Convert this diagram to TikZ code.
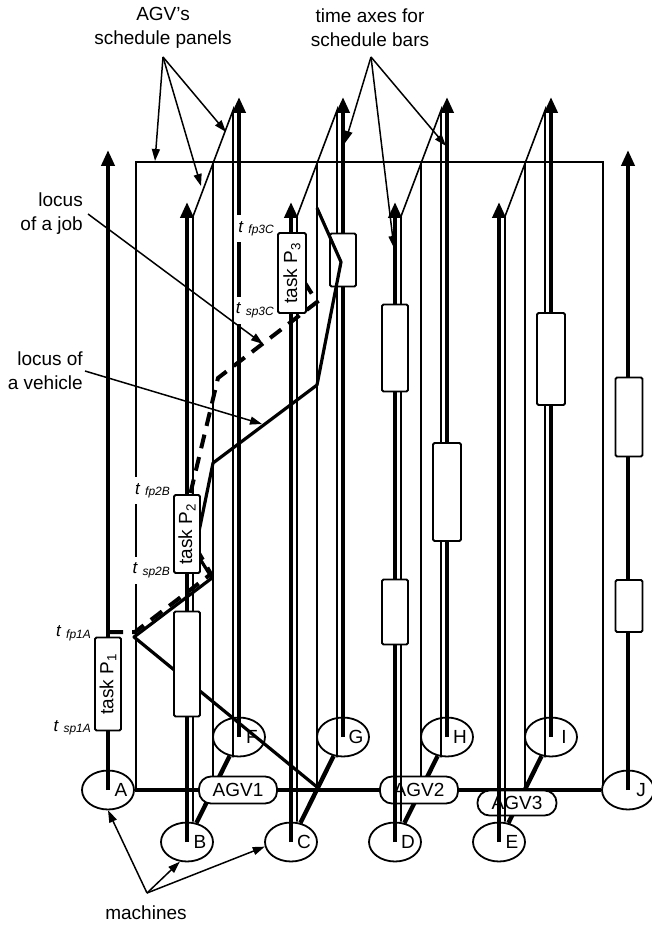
\documentclass[tikz,border=0pt]{standalone}
\usepackage{fontspec}
\setmainfont{Liberation Sans}
\usetikzlibrary{arrows.meta,backgrounds,shapes.geometric}

\newcommand{\timelabel}[1]{\textit{t}\ \raisebox{-1.5pt}{\fontsize{12}{12}\selectfont\textit{#1}}}

\tikzset{
    sched diagram/.style = {x=1pt, y=-1pt},
    machine/.style   = {draw, ellipse, line width=1.8pt, fill=white,
                        minimum width=52pt, minimum height=39pt, inner sep=0pt},
    mname/.style     = {font=\fontsize{19}{19}\selectfont, xshift=13pt},
    agv/.style       = {draw, line width=1.8pt, rounded corners=12pt, fill=white,
                        minimum width=78pt, minimum height=27pt, inner sep=0pt,
                        font=\fontsize{19}{19}\selectfont},
    timeaxis/.style  = {line width=4pt, -{Triangle[width=13pt,length=16pt]}},
    panel/.style     = {line width=1.6pt},
    link/.style      = {line width=4.4pt},
    schedbar/.style  = {draw, line width=1.8pt, rounded corners=1.5pt, fill=white,
                        minimum width=26pt, inner sep=0pt},
    task/.style      = {schedbar, rotate=90, minimum height=26pt,
                        font=\fontsize{19}{19}\selectfont},
    tlabel/.style    = {fill=white, inner xsep=2pt, inner ysep=6pt,
                        font=\fontsize{17}{17}\selectfont},
    vehicle/.style   = {line width=3.2pt, line join=round},
    job/.style       = {line width=4pt, dash pattern=on 14pt off 9pt},
    note/.style      = {font=\fontsize{19}{24}\selectfont, align=center, inner sep=0pt},
    pointer/.style   = {line width=1.5pt, -{Triangle[width=8pt,length=12pt]}}
}

\begin{document}
\begin{tikzpicture}[sched diagram]
\useasboundingbox (0,0) rectangle (651,925);

% machines
\node[machine, label={[mname]center:A}] (A) at (108,790) {};
\node[machine, label={[mname]center:J}] (J) at (628,790) {};
\node[machine, label={[mname]center:F}] (F) at (239,737) {};
\node[machine, label={[mname]center:G}] (G) at (343,737) {};
\node[machine, label={[mname]center:H}] (H) at (447,737) {};
\node[machine, label={[mname]center:I}] (I) at (551,737) {};
\node[machine, label={[mname]center:B}] (B) at (187,842) {};
\node[machine, label={[mname]center:C}] (C) at (291,842) {};
\node[machine, label={[mname]center:D}] (D) at (395,842) {};
\node[machine, label={[mname]center:E}] (E) at (499,842) {};

% middle plane
\begin{scope}[on background layer]
    \draw[panel] (136,790) -- (136,162) -- (603,162) -- (603,790);
    \draw[panel] (213,162) -- (213,790);
    \draw[panel] (317,162) -- (317,790);
    \draw[panel] (421,162) -- (421,790);
    \draw[panel] (525,162) -- (525,790);
\end{scope}

% track and vehicle links
\draw[link] (A) -- (J);
\draw[link] (F) -- (B);
\draw[link] (G) -- (C);
\draw[link] (H) -- (D);
\draw[link] (I) -- (E);

\node[agv] (AGV1) at (238,790) {AGV1};
\node[agv] (AGV2) at (419,790) {AGV2};
\node[agv, minimum height=25pt, minimum width=79pt] (AGV3) at (517,803) {AGV3};

% schedule panels of the vehicles
\draw[panel] ([xshift=-6pt]F.south) -- ++(0,-647) -- ++(-40,106) -- ([xshift=6pt]B.north);
\draw[panel] ([xshift=-6pt]G.south) -- ++(0,-647) -- ++(-40,106) -- ([xshift=6pt]C.north);
\draw[panel] ([xshift=-6pt]H.south) -- ++(0,-647) -- ++(-40,106) -- ([xshift=6pt]D.north);
\draw[panel] ([xshift=-6pt]I.south) -- ++(0,-647) -- ++(-40,106) -- ([xshift=6pt]E.north);

% time axes of the machines
\draw[timeaxis] (A.center) -- ++(0,-640);
\draw[timeaxis] (J.center) -- ++(0,-640);
\draw[timeaxis] (F.center) -- ++(0,-640);
\draw[timeaxis] (G.center) -- ++(0,-640);
\draw[timeaxis] (H.center) -- ++(0,-640);
\draw[timeaxis] (I.center) -- ++(0,-640);
\draw[timeaxis] (B.center) -- ++(0,-640);
\draw[timeaxis] (C.center) -- ++(0,-640);
\draw[timeaxis] (D.center) -- ++(0,-640);
\draw[timeaxis] (E.center) -- ++(0,-640);

% schedule bars
\node[schedbar, minimum height=53pt] (barG) at (343,260) {};
\node[schedbar, minimum height=87pt] (barD1) at (395,348) {};
\node[schedbar, minimum height=65pt] (barD2) at (395,612) {};
\node[schedbar, minimum height=98pt, minimum width=28pt] (barH) at (447,492) {};
\node[schedbar, minimum height=92pt, minimum width=28pt] (barI) at (551,359) {};
\node[schedbar, minimum height=79pt, minimum width=27pt] (barJ1) at (629,417) {};
\node[schedbar, minimum height=52pt, minimum width=27pt] (barJ2) at (629,606) {};

% loci
\draw[vehicle] (317,787) -- (134,637) -- (212,578) -- (195,551) -- (213,463)
    -- (317,385) -- (341,262) -- (317,208);
\draw[job] (109,632) -- (135,632) -- (211,574) -- (196,548) -- (190,495)
    -- (218,378) -- (317,302) -- (300,275);

\node[schedbar, minimum height=105pt] (barB) at (187,664) {};

% tasks of the job
\node[task, minimum width=93pt] (P1) at (108,684) {task P\textsubscript{1}};
\node[task, minimum width=78pt] (P2) at (187,534) {task P\textsubscript{2}};
\node[task, minimum width=80pt, minimum height=28pt] (P3) at (292,273) {task P\textsubscript{3}};

% (rotated boxes: north east is the upper left corner)
\node[tlabel, anchor=base east] (tfp1) at ([xshift=-1pt]P1.north east) {\timelabel{fp1A}};
\node[tlabel, anchor=base east] (tsp1) at ([xshift=-1pt]P1.north west) {\timelabel{sp1A}};
\node[tlabel, anchor=base east] (tfp2) at ([xshift=-1pt]P2.north east) {\timelabel{fp2B}};
\node[tlabel, anchor=base east] (tsp2) at ([xshift=-1pt]P2.north west) {\timelabel{sp2B}};
\node[tlabel, anchor=base east] (tfp3) at ([xshift=-1pt]P3.north east) {\timelabel{fp3C}};
\node[tlabel, anchor=base east] (tsp3) at ([xshift=-1pt]P3.north west) {\timelabel{sp3C}};

% notes
\node[note] (panelsnote) at (163,28) {AGV's\\schedule panels};
\coordinate (panelsfork) at (163,57);
\coordinate (paneltop) at (155,161);
\coordinate (panelinside) at (201,186);
\coordinate (paneledge) at (226,132);
\draw[pointer] (panelsfork) -- (paneltop);
\draw[pointer] (panelsfork) -- (panelinside);
\draw[pointer] (panelsfork) -- (paneledge);

\node[note] (axesnote) at (370,28) {time axes for\\schedule bars};
\coordinate (axesfork) at (371,57);
\coordinate (axisG) at (345,143);
\coordinate (axisD) at (394,248);
\coordinate (axisH) at (446,146);
\draw[pointer] (axesfork) -- (axisG);
\draw[pointer] (axesfork) -- (axisD);
\draw[pointer] (axesfork) -- (axisH);

\node[note, align=right, anchor=east] (jobnote) at (83,214) {locus\\of a job};
\coordinate (jobtip) at (263,344);
\draw[pointer] ([xshift=5pt]jobnote.east) -- (jobtip);

\node[note, align=right, anchor=east] (vehiclenote) at (83,371) {locus of\\a vehicle};
\coordinate (vehicletip) at (262,424);
\draw[pointer] ([xshift=2pt]vehiclenote.east) -- (vehicletip);

\node[note] (machinesnote) at (146,913) {machines};
\coordinate (machinesfork) at (147,893);
\draw[pointer] (machinesfork) -- (A.south);
\draw[pointer] (machinesfork) -- (B.250);
\draw[pointer] (machinesfork) -- (C.190);

\end{tikzpicture}
\end{document}
